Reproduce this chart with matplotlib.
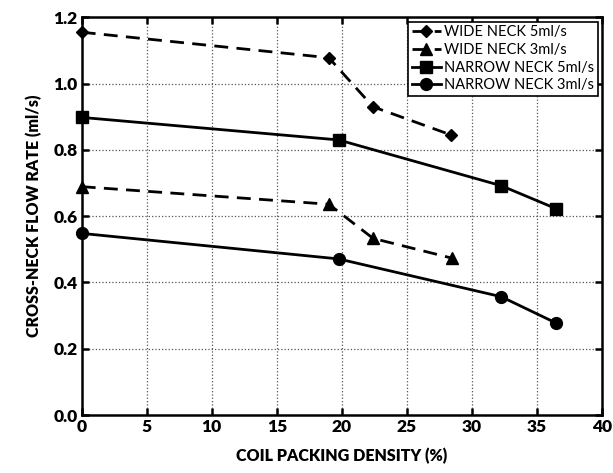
import matplotlib
matplotlib.use("Agg")
import matplotlib.pyplot as plt

plt.rcParams['font.family'] = ['Lato', 'DejaVu Sans']

wide5_x = [0, 19.0, 22.4, 28.4]
wide5_y = [1.155, 1.078, 0.930, 0.845]
wide3_x = [0, 19.0, 22.4, 28.5]
wide3_y = [0.689, 0.636, 0.533, 0.473]
narrow5_x = [0, 19.75, 32.25, 36.45]
narrow5_y = [0.898, 0.830, 0.692, 0.623]
narrow3_x = [0, 19.75, 32.25, 36.45]
narrow3_y = [0.548, 0.471, 0.357, 0.278]

labels = ["WIDE NECK 5ml/s", "WIDE NECK 3ml/s", "NARROW NECK 5ml/s", "NARROW NECK 3ml/s"]

fig = plt.figure(figsize=(6.13, 4.73), dpi=100)
ax = fig.add_axes([0.1333, 0.1226, 0.8487, 0.8408])

dash = (0, (5, 3))
ax.plot(wide5_x, wide5_y, color='black', lw=2.0, linestyle=dash, marker='D', ms=6.5, label=labels[0], clip_on=False, zorder=5)
ax.plot(wide3_x, wide3_y, color='black', lw=2.0, linestyle=dash, marker='^', ms=8, label=labels[1], clip_on=False, zorder=5)
ax.plot(narrow5_x, narrow5_y, color='black', lw=2.0, linestyle='-', marker='s', ms=8, label=labels[2], clip_on=False, zorder=5)
ax.plot(narrow3_x, narrow3_y, color='black', lw=2.0, linestyle='-', marker='o', ms=8.5, label=labels[3], clip_on=False, zorder=5)

ax.set_xlim(0, 40)
ax.set_ylim(0, 1.2)
ax.set_xticks(range(0, 41, 5))
ax.set_yticks([0.0, 0.2, 0.4, 0.6, 0.8, 1.0, 1.2])
ax.set_yticklabels(['0.0', '0.2', '0.4', '0.6', '0.8', '1.0', '1.2'])
ax.grid(True, linestyle=':', color='#555555', lw=0.9)
ax.tick_params(direction='in', top=True, right=True, length=5, width=1.8, labelsize=12.5, pad=3)
for lab in ax.get_xticklabels() + ax.get_yticklabels():
    lab.set_fontweight('heavy')
for s in ax.spines.values():
    s.set_linewidth(1.8)

ax.set_xlabel('COIL PACKING DENSITY (%)', fontsize=11.5, fontweight='heavy', labelpad=9)
ax.set_ylabel('CROSS-NECK FLOW RATE (ml/s)', fontsize=11.5, fontweight='heavy', labelpad=8)

leg = ax.legend(loc='upper right', fontsize=10.5, frameon=True, fancybox=False, edgecolor='black',
                handlelength=2.0, handletextpad=0.2, borderpad=0.25, labelspacing=0.25,
                borderaxespad=0.3)
leg.get_frame().set_linewidth(1.2)
leg.get_frame().set_alpha(1)

fig.savefig('out.png', dpi=100)
